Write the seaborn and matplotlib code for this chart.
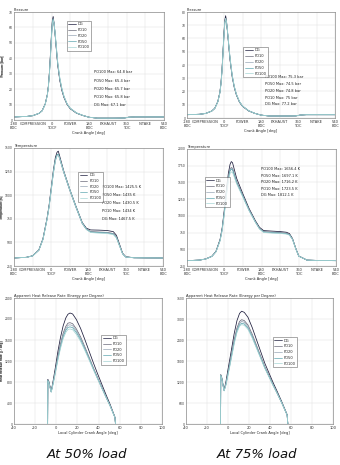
import numpy as np
import pandas as pd
import matplotlib
matplotlib.use("Agg")
import matplotlib.pyplot as plt
import seaborn as sns

SERIES = ["DG", "PO10", "PO20", "PO50", "PO100"]
COLORS = ["#1c1c3c", "#6a6a7a", "#98a6b6", "#5fa7b0", "#a6d4d4"]

# ---------------- Pressure ----------------
A_P = [-180, -120, -90, -60, -45, -30, -20, -15, -10, -5, 0, 4, 8, 12, 16, 20, 25, 30,
       40, 50, 60, 75, 90, 120, 150, 180, 220, 300, 350, 370, 400, 540]
P50_DG = [2.0, 2.3, 2.8, 4.3, 6.0, 10.5, 16.5, 22.0, 31.0, 43.0, 56.0, 64.5, 67.1, 63.0, 57.5, 51.0, 43.0, 35.5, 25.5, 19.0, 14.5, 10.0, 7.3, 4.4, 2.9, 1.8, 1.2, 1.2, 1.3, 1.8, 2.0, 2.0]
P50_PO10 = [2.0, 2.3, 2.8, 4.3, 6.0, 10.4, 16.4, 21.8, 30.5, 42.0, 55.0, 63.5, 65.8, 62.5, 57.5, 51.5, 43.5, 36.0, 26.0, 19.5, 14.8, 10.2, 7.4, 4.5, 3.0, 1.8, 1.2, 1.2, 1.3, 1.8, 2.0, 2.0]
P50_PO20 = [2.0, 2.3, 2.8, 4.3, 6.0, 10.4, 16.3, 21.7, 30.2, 41.5, 54.5, 63.2, 65.7, 62.6, 57.8, 51.8, 44.0, 36.5, 26.4, 19.8, 15.0, 10.3, 7.5, 4.5, 3.0, 1.8, 1.2, 1.2, 1.3, 1.8, 2.0, 2.0]
P50_PO50 = [2.0, 2.3, 2.8, 4.3, 5.9, 10.3, 16.2, 21.5, 30.0, 41.0, 54.0, 62.8, 65.4, 62.7, 58.0, 52.2, 44.5, 37.0, 26.8, 20.1, 15.2, 10.4, 7.6, 4.6, 3.0, 1.8, 1.2, 1.2, 1.3, 1.8, 2.0, 2.0]
P50_PO100 = [2.0, 2.3, 2.8, 4.3, 5.9, 10.2, 16.0, 21.2, 29.5, 40.5, 53.2, 62.0, 64.8, 62.6, 58.3, 52.6, 45.0, 37.5, 27.2, 20.4, 15.4, 10.5, 7.7, 4.6, 3.0, 1.8, 1.2, 1.2, 1.3, 1.8, 2.0, 2.0]

P75_DG = [2.5, 2.8, 3.4, 5.2, 7.3, 12.5, 19.5, 26.0, 36.0, 50.0, 65.0, 74.0, 77.2, 73.5, 67.0, 60.0, 51.0, 43.0, 31.0, 23.0, 17.5, 12.0, 8.8, 5.3, 3.5, 2.2, 1.5, 1.5, 1.6, 2.2, 2.5, 2.5]
P75_PO10 = [2.5, 2.8, 3.4, 5.2, 7.3, 12.4, 19.3, 25.7, 35.4, 49.0, 63.5, 72.3, 75.0, 72.0, 66.5, 60.0, 51.5, 43.6, 31.5, 23.4, 17.8, 12.2, 8.9, 5.4, 3.5, 2.2, 1.5, 1.5, 1.6, 2.2, 2.5, 2.5]
P75_PO20 = [2.5, 2.8, 3.4, 5.2, 7.2, 12.3, 19.2, 25.5, 35.0, 48.5, 63.0, 72.0, 74.8, 72.0, 66.7, 60.3, 51.9, 44.0, 31.8, 23.6, 17.9, 12.3, 9.0, 5.4, 3.5, 2.2, 1.5, 1.5, 1.6, 2.2, 2.5, 2.5]
P75_PO50 = [2.5, 2.8, 3.4, 5.2, 7.2, 12.2, 19.0, 25.2, 34.6, 48.0, 62.4, 71.6, 74.5, 72.0, 66.9, 60.6, 52.3, 44.4, 32.1, 23.8, 18.0, 12.4, 9.0, 5.5, 3.5, 2.2, 1.5, 1.5, 1.6, 2.2, 2.5, 2.5]
P75_PO100 = [2.5, 2.8, 3.4, 5.2, 7.2, 12.1, 18.8, 25.0, 34.2, 47.6, 62.2, 72.0, 75.3, 72.8, 67.6, 61.2, 52.8, 44.8, 32.4, 24.0, 18.2, 12.5, 9.1, 5.5, 3.5, 2.2, 1.5, 1.5, 1.6, 2.2, 2.5, 2.5]

# ---------------- Temperature ----------------
A_T = [-180, -120, -90, -60, -40, -20, -10, 0, 10, 20, 28, 34, 40, 60, 90, 120, 150, 170,
       190, 230, 270, 300, 315, 330, 345, 360, 400, 460, 540]
T50_DG = [335, 342, 358, 420, 540, 760, 900, 1080, 1260, 1400, 1455, 1467, 1420, 1260, 1060, 880, 710, 650, 632, 630, 626, 614, 575, 480, 385, 348, 338, 336, 335]
T50_PO10 = [335, 342, 358, 418, 535, 752, 890, 1065, 1240, 1375, 1425, 1434, 1395, 1245, 1050, 870, 700, 640, 615, 610, 606, 594, 556, 468, 380, 346, 337, 336, 335]
T50_PO20 = [335, 342, 358, 418, 534, 750, 887, 1060, 1235, 1370, 1421, 1430, 1392, 1243, 1048, 868, 698, 637, 612, 607, 603, 591, 554, 466, 379, 346, 337, 336, 335]
T50_PO50 = [335, 342, 357, 417, 532, 748, 885, 1058, 1236, 1372, 1426, 1435, 1398, 1250, 1055, 873, 702, 640, 610, 604, 600, 588, 552, 464, 378, 345, 337, 336, 335]
T50_PO100 = [335, 341, 357, 416, 530, 744, 880, 1050, 1228, 1363, 1417, 1425, 1392, 1248, 1054, 872, 700, 636, 605, 598, 594, 583, 548, 462, 377, 345, 337, 336, 335]

T75_DG = [330, 338, 355, 395, 470, 650, 820, 1080, 1380, 1640, 1770, 1812, 1795, 1560, 1330, 1110, 930, 830, 780, 772, 765, 755, 735, 660, 520, 400, 338, 332, 330]
T75_PO10 = [330, 338, 355, 394, 466, 640, 805, 1055, 1340, 1580, 1700, 1723, 1712, 1510, 1300, 1090, 915, 815, 765, 756, 750, 741, 722, 652, 516, 398, 338, 332, 330]
T75_PO20 = [330, 338, 355, 394, 465, 638, 800, 1048, 1330, 1572, 1693, 1716, 1706, 1506, 1297, 1088, 913, 812, 762, 752, 746, 737, 719, 650, 515, 398, 338, 332, 330]
T75_PO50 = [330, 338, 354, 393, 463, 634, 793, 1035, 1312, 1552, 1674, 1697, 1690, 1497, 1292, 1084, 910, 809, 758, 748, 742, 733, 716, 648, 514, 397, 338, 332, 330]
T75_PO100 = [330, 338, 354, 392, 460, 626, 780, 1010, 1280, 1515, 1635, 1656, 1652, 1478, 1280, 1076, 905, 805, 752, 742, 737, 728, 712, 645, 512, 396, 338, 332, 330]

# ---------------- Heat release rate ----------------
A_H50 = [-8.2, -8.0, -7.2, -6.0, -4.8, -3.0, -1.0, 1.5, 4.0, 6.5, 9.0, 11.0, 13.0, 15.5, 19.0,
         23.0, 27.0, 31.0, 35.0, 39.0, 43.0, 47.0, 51.0, 55.5, 56.0]
H50_DG = [0, 850, 820, 720, 620, 820, 1060, 1380, 1650, 1870, 2020, 2090, 2114, 2095, 1990, 1820, 1610, 1390, 1170, 960, 760, 560, 370, 130, 0]
H50_PO10 = [0, 840, 810, 710, 615, 790, 1000, 1290, 1530, 1730, 1860, 1920, 1930, 1910, 1810, 1660, 1470, 1275, 1075, 885, 700, 520, 345, 125, 0]
H50_PO20 = [0, 835, 805, 705, 612, 780, 985, 1265, 1500, 1695, 1820, 1880, 1890, 1872, 1776, 1630, 1448, 1258, 1062, 876, 695, 516, 343, 124, 0]
H50_PO50 = [0, 830, 800, 700, 610, 770, 970, 1240, 1470, 1660, 1782, 1840, 1850, 1834, 1742, 1602, 1425, 1240, 1050, 868, 690, 513, 341, 123, 0]
H50_PO100 = [0, 825, 795, 695, 605, 760, 955, 1215, 1440, 1625, 1745, 1800, 1810, 1796, 1708, 1574, 1402, 1222, 1037, 860, 684, 510, 339, 122, 0]

A_H75 = [-7.1, -6.9, -6.0, -4.8, -3.7, -2.0, 0.0, 2.0, 4.0, 6.0, 8.5, 11.0, 13.0, 15.5, 19.0,
         23.0, 27.0, 31.0, 35.0, 39.0, 43.0, 47.0, 51.0, 56.3, 57.0]
H75_DG = [0, 1410, 1330, 1130, 970, 1200, 1560, 1900, 2250, 2600, 2950, 3160, 3222, 3190, 3050, 2760, 2420, 2080, 1740, 1460, 1180, 920, 650, 270, 0]
H75_PO10 = [0, 1400, 1320, 1120, 960, 1150, 1470, 1780, 2100, 2420, 2740, 2930, 2980, 2955, 2830, 2570, 2260, 1950, 1640, 1380, 1120, 875, 620, 260, 0]
H75_PO20 = [0, 1395, 1315, 1115, 955, 1135, 1445, 1750, 2065, 2380, 2695, 2882, 2930, 2906, 2784, 2530, 2228, 1925, 1622, 1368, 1112, 870, 617, 259, 0]
H75_PO50 = [0, 1390, 1310, 1110, 950, 1120, 1420, 1720, 2030, 2340, 2650, 2834, 2880, 2858, 2740, 2492, 2198, 1902, 1606, 1357, 1105, 866, 615, 258, 0]
H75_PO100 = [0, 1385, 1305, 1105, 945, 1105, 1395, 1690, 1995, 2300, 2610, 2795, 2840, 2820, 2705, 2462, 2174, 1884, 1594, 1348, 1099, 862, 613, 257, 0]

# ---------------- Text ----------------
CRANK_TICKS = [-180, -90, 0, 90, 180, 270, 360, 450, 540]
CRANK_LABELS = ["-180\nBDC", "COMPRESSION", "0\nTDCF", "POWER", "180\nBDC", "EXHAUST",
                "360\nTDC", "INTAKE", "540\nBDC"]
ANN_P50 = ["PO100 Max: 64.8 bar", "PO50 Max: 65.4 bar", "PO20 Max: 65.7 bar", "PO10 Max: 65.8 bar", "DG Max: 67.1 bar"]
ANN_P75 = ["PO100 Max: 75.3 bar", "PO50 Max: 74.5 bar", "PO20 Max: 74.8 bar", "PO10 Max: 75 bar", "DG Max: 77.2 bar"]
ANN_T50 = ["PO100 Max: 1425.5 K", "PO50 Max: 1435 K", "PO20 Max: 1430.5 K", "PO10 Max: 1434 K", "DG Max: 1467.5 K"]
ANN_T75 = ["PO100 Max: 1656.4 K", "PO50 Max: 1697.1 K", "PO20 Max: 1716.2 K", "PO10 Max: 1723.5 K", "DG Max: 1812.1 K"]
CAPTIONS = ["At 50% load", "At 75% load"]

sns.set_theme(style="whitegrid")
plt.rcParams["font.family"] = ["DejaVu Sans"]
plt.rcParams["axes.edgecolor"] = "#8a8a8a"
plt.rcParams["grid.color"] = "#e2e2e2"

W, H = 340, 465
fig = plt.figure(figsize=(W / 100, H / 100), dpi=100)
fig.patch.set_facecolor("white")

FS = 2.6
FT = 2.2


def make_df(angles, lists):
    rows = []
    for name, vals in zip(SERIES, lists):
        for a, v in zip(angles, vals):
            rows.append((name, a, v))
    return pd.DataFrame(rows, columns=["series", "angle", "value"])


def add_ax(l, r, t, b):
    ax = fig.add_axes([l / W, 1 - b / H, (r - l) / W, (b - t) / H])
    ax._px = (l, r)
    return ax


def draw(ax, angles, lists, title, ylabel, xlabel, ylim, yticks, xlim, xticks, xticklabels,
         leg_xy, ann=None, ann_xy=None, ann_dy=None):
    df = make_df(angles, lists)
    sns.lineplot(data=df, x="angle", y="value", hue="series", hue_order=SERIES,
                 palette=COLORS, estimator=None, sort=False, linewidth=0.55, ax=ax)
    ax.set_xlim(*xlim)
    ax.set_ylim(*ylim)
    ax.set_xticks(xticks)
    ax.set_xticklabels(xticklabels, fontsize=FS, linespacing=1.1)
    ax.set_yticks(yticks)
    ax.set_yticklabels([str(v) for v in yticks], fontsize=FT)
    ax.tick_params(axis="both", length=0.6, width=0.3, pad=0.6, colors="#333333")
    ax.set_xlabel(xlabel, fontsize=FS, labelpad=1)
    ax.set_ylabel(ylabel, fontsize=FT)
    l, r = ax._px
    ax.yaxis.set_label_coords(-(l - 4.3) / (r - l), 0.5)
    ax.set_title(title, loc="left", fontsize=FS, pad=0.5)
    ax.grid(True, linewidth=0.35)
    for s in ax.spines.values():
        s.set_linewidth(0.5)
    h, lab = ax.get_legend_handles_labels()
    leg = ax.legend(h, lab, loc="upper left", bbox_to_anchor=leg_xy, fontsize=FS,
                    frameon=True, fancybox=False, borderpad=0.4, handlelength=2.2,
                    handletextpad=0.5, labelspacing=0.5, borderaxespad=0)
    leg.get_frame().set_edgecolor("#444444")
    leg.get_frame().set_linewidth(0.4)
    for ln in leg.get_lines():
        ln.set_linewidth(0.5)
    if ann:
        for i, txt in enumerate(ann):
            ax.text(ann_xy[0], ann_xy[1] - i * ann_dy, txt, transform=ax.transAxes,
                    fontsize=FS, va="center", ha="left", color="#222222")


# Pressure
ax = add_ax(14, 164, 12, 120)
draw(ax, A_P, [P50_DG, P50_PO10, P50_PO20, P50_PO50, P50_PO100], "Pressure", "Pressure [bar]",
     "Crank Angle [deg]", (0, 70), list(range(0, 71, 10)), (-180, 540), CRANK_TICKS, CRANK_LABELS,
     (0.35, 0.92), ANN_P50, (0.53, 0.44), 0.075)
ax = add_ax(187, 335, 12, 118)
draw(ax, A_P, [P75_DG, P75_PO10, P75_PO20, P75_PO50, P75_PO100], "Pressure", "Pressure [bar]",
     "Crank Angle [deg]", (0, 80), list(range(0, 81, 10)), (-180, 540), CRANK_TICKS, CRANK_LABELS,
     (0.38, 0.67), ANN_P75, (0.53, 0.384), 0.064)
# Temperature
ax = add_ax(14, 163, 148, 266)
draw(ax, A_T, [T50_DG, T50_PO10, T50_PO20, T50_PO50, T50_PO100], "Temperature", "Temperature [K]",
     "Crank Angle [deg]", (250, 1500), list(range(250, 1501, 250)), (-180, 540), CRANK_TICKS,
     CRANK_LABELS, (0.43, 0.80), ANN_T50, (0.59, 0.667), 0.068)
ax = add_ax(187, 336, 149, 266)
draw(ax, A_T, [T75_DG, T75_PO10, T75_PO20, T75_PO50, T75_PO100], "Temperature", "Temperature [K]",
     "Crank Angle [deg]", (250, 2000), list(range(250, 2001, 250)), (-180, 540), CRANK_TICKS,
     CRANK_LABELS, (0.12, 0.76), ANN_T75, (0.495, 0.826), 0.055)
# Heat release
HR_TICKS = list(range(-40, 101, 20))
ax = add_ax(14, 162, 298, 424)
draw(ax, A_H50, [H50_DG, H50_PO10, H50_PO20, H50_PO50, H50_PO100],
     "Apparent Heat Release Rate (Energy per Degree)", "Heat Release Rate [J / deg]",
     "Local Cylinder Crank Angle [deg]", (0, 2400), list(range(0, 2401, 400)), (-40, 100),
     HR_TICKS, [str(v) for v in HR_TICKS], (0.59, 0.71))
ax = add_ax(186, 333, 298, 424)
draw(ax, A_H75, [H75_DG, H75_PO10, H75_PO20, H75_PO50, H75_PO100],
     "Apparent Heat Release Rate (Energy per Degree)", "Heat Release Rate [J / deg]",
     "Local Cylinder Crank Angle [deg]", (0, 3600), list(range(0, 3601, 600)), (-40, 100),
     HR_TICKS, [str(v) for v in HR_TICKS], (0.59, 0.69))

fig.text(87 / W, 1 - 454 / H, CAPTIONS[0], ha="center", va="center", style="italic",
         fontsize=9.5, color="#111111")
fig.text(257 / W, 1 - 454 / H, CAPTIONS[1], ha="center", va="center", style="italic",
         fontsize=9.5, color="#111111")

fig.savefig("out.png", dpi=100, facecolor="white")
